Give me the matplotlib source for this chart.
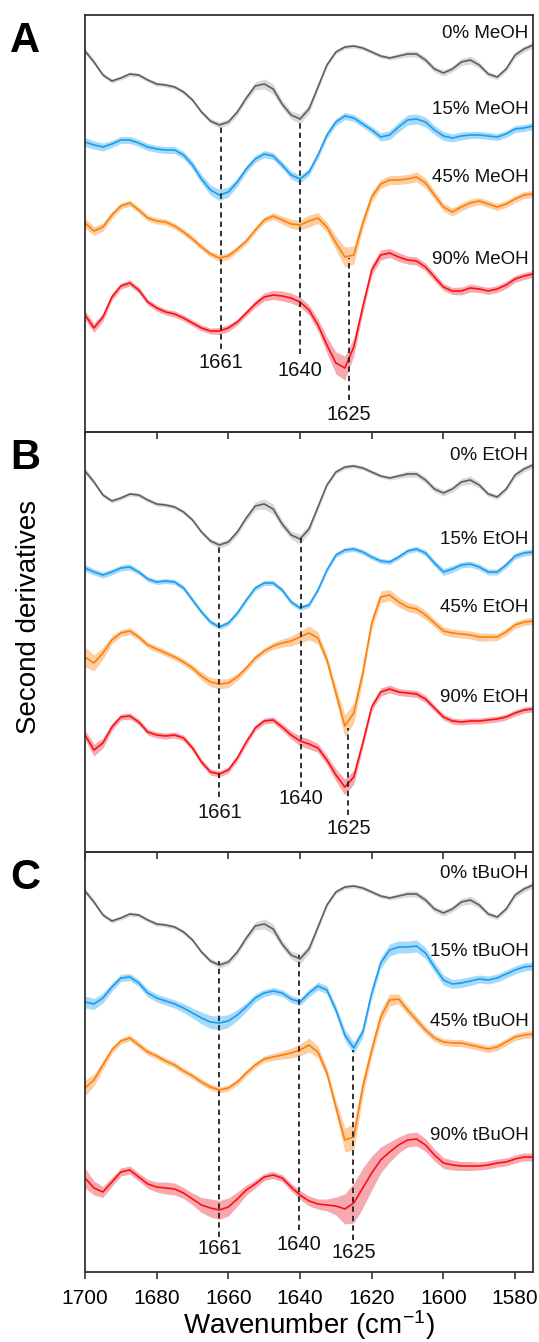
import numpy as np
import matplotlib
matplotlib.use("Agg")
import matplotlib.pyplot as plt

plt.rcParams['font.family'] = ['Liberation Sans', 'DejaVu Sans']
plt.rcParams['mathtext.fontset'] = 'custom'
plt.rcParams['mathtext.rm'] = 'Liberation Sans'
plt.rcParams['mathtext.default'] = 'regular'

# wavenumber grid (cm-1), 1700 -> 1575 every 2.5
wavenumber = np.arange(1700, 1574, -2.5)

# 0% co-solvent control (same in all three panels)
ctrl = [38.1, 37.0, 35.7, 35.1, 35.4, 35.8, 35.7, 35.2, 34.8, 34.7, 34.5, 34.0, 33.2, 32.0, 31.1, 30.7, 31.0,
        32.0, 33.4, 34.6, 34.8, 34.3, 32.8, 31.7, 31.3, 32.3, 34.5, 36.7, 38.0, 38.5, 38.6, 38.4, 38.0, 37.6,
        37.4, 37.6, 37.8, 37.8, 37.2, 36.3, 35.9, 36.3, 37.0, 37.2, 36.7, 35.8, 35.5, 36.3, 37.7, 38.3, 38.7]
ctrl_sd = [0.3, 0.25, 0.2, 0.2, 0.2, 0.2, 0.2, 0.2, 0.2, 0.2, 0.2, 0.2, 0.2, 0.2, 0.25, 0.3, 0.3, 0.3, 0.3,
           0.4, 0.5, 0.5, 0.4, 0.4, 0.5, 0.4, 0.3, 0.2, 0.2, 0.2, 0.2, 0.2, 0.2, 0.2, 0.2, 0.25, 0.3, 0.3,
           0.3, 0.3, 0.3, 0.3, 0.35, 0.4, 0.3, 0.25, 0.25, 0.25, 0.3, 0.3, 0.3]

# A: methanol
meoh15 = [29.0, 28.7, 28.5, 28.8, 29.2, 29.2, 28.9, 28.5, 28.3, 28.2, 28.2, 27.7, 26.7, 25.3, 24.2, 23.7, 24.0,
          25.0, 26.3, 27.3, 27.8, 27.6, 26.7, 25.7, 25.3, 26.0, 27.7, 29.7, 31.0, 31.6, 31.4, 30.8, 30.2, 29.5,
          29.7, 30.5, 31.2, 31.3, 31.0, 30.2, 29.6, 29.4, 29.6, 29.7, 29.7, 29.6, 29.5, 29.8, 30.3, 30.4, 30.6]
meoh15_sd = [0.45, 0.4, 0.4, 0.35, 0.35, 0.35, 0.35, 0.35, 0.35, 0.35, 0.35, 0.35, 0.4, 0.45, 0.5, 0.55, 0.5,
             0.4, 0.35, 0.35, 0.35, 0.35, 0.35, 0.4, 0.4, 0.35, 0.35, 0.35, 0.35, 0.35, 0.35, 0.35, 0.35, 0.4,
             0.45, 0.5, 0.5, 0.5, 0.5, 0.45, 0.45, 0.4, 0.4, 0.35, 0.35, 0.35, 0.35, 0.35, 0.35, 0.35, 0.35]
meoh45 = [20.9, 20.1, 20.5, 21.7, 22.6, 22.9, 22.2, 21.4, 21.1, 21.0, 20.6, 20.0, 19.3, 18.5, 17.8, 17.4, 17.6,
          18.3, 19.1, 20.2, 21.2, 21.6, 21.2, 20.8, 20.7, 21.1, 21.4, 20.5, 18.9, 17.5, 17.7, 20.9, 23.5, 24.8,
          25.2, 25.2, 25.3, 25.5, 24.9, 23.7, 22.5, 22.0, 22.5, 22.9, 23.1, 22.8, 22.5, 22.8, 23.3, 23.7, 23.8]
meoh45_sd = [0.5, 0.45, 0.4, 0.35, 0.3, 0.3, 0.3, 0.3, 0.3, 0.3, 0.3, 0.3, 0.3, 0.3, 0.3, 0.35, 0.35, 0.3,
             0.3, 0.3, 0.3, 0.35, 0.4, 0.45, 0.5, 0.6, 0.55, 0.5, 0.7, 1.0, 0.9, 0.6, 0.5, 0.45, 0.45, 0.45,
             0.45, 0.5, 0.5, 0.45, 0.4, 0.4, 0.4, 0.4, 0.35, 0.35, 0.35, 0.35, 0.35, 0.35, 0.35]
meoh90 = [11.7, 10.4, 11.5, 13.5, 14.6, 14.9, 14.2, 13.0, 12.4, 12.0, 11.8, 11.4, 10.9, 10.4, 10.1, 10.1, 10.4,
          11.0, 11.9, 12.8, 13.5, 13.7, 13.6, 13.4, 13.0, 12.2, 10.7, 8.7, 6.9, 6.4, 8.5, 12.5, 16.2, 17.7,
          17.9, 17.5, 17.2, 17.1, 16.5, 15.5, 14.5, 14.1, 14.1, 14.4, 14.3, 14.1, 14.3, 14.7, 15.3, 15.6, 15.8]
meoh90_sd = [0.45, 0.45, 0.4, 0.35, 0.3, 0.3, 0.3, 0.3, 0.3, 0.3, 0.3, 0.3, 0.3, 0.3, 0.3, 0.35, 0.35, 0.3,
             0.3, 0.35, 0.4, 0.45, 0.5, 0.5, 0.5, 0.5, 0.6, 0.8, 1.1, 1.2, 0.9, 0.6, 0.55, 0.5, 0.45, 0.45,
             0.4, 0.4, 0.4, 0.4, 0.35, 0.35, 0.4, 0.4, 0.35, 0.35, 0.35, 0.35, 0.35, 0.35, 0.35]

# B: ethanol
etoh15 = [28.4, 28.0, 27.7, 28.0, 28.4, 28.5, 28.0, 27.3, 27.0, 27.1, 27.0, 26.4, 25.2, 24.0, 23.0, 22.5, 22.9,
          23.9, 25.2, 26.4, 26.9, 26.9, 26.2, 25.0, 24.4, 24.7, 26.2, 28.2, 29.7, 30.2, 30.3, 30.0, 29.5, 29.1,
          29.0, 29.5, 30.1, 30.3, 29.9, 28.9, 28.0, 28.3, 28.7, 28.8, 28.5, 28.0, 28.0, 28.7, 29.6, 29.9, 30.0]
etoh15_sd = [0.35, 0.3, 0.3, 0.3, 0.3, 0.3, 0.25, 0.25, 0.25, 0.25, 0.25, 0.25, 0.25, 0.25, 0.25, 0.25, 0.25,
             0.25, 0.25, 0.25, 0.25, 0.25, 0.25, 0.25, 0.25, 0.25, 0.25, 0.25, 0.25, 0.25, 0.25, 0.25, 0.25,
             0.25, 0.25, 0.25, 0.25, 0.25, 0.3, 0.3, 0.35, 0.35, 0.3, 0.3, 0.3, 0.3, 0.3, 0.3, 0.3, 0.3, 0.3]
etoh45 = [19.5, 18.9, 19.9, 21.2, 21.9, 22.1, 21.5, 20.7, 20.3, 19.9, 19.5, 19.0, 18.4, 17.6, 17.0, 16.8, 16.9,
          17.5, 18.4, 19.4, 20.1, 20.6, 20.9, 21.1, 21.5, 21.9, 21.4, 19.2, 15.9, 12.6, 13.9, 17.9, 22.9, 25.5,
          25.7, 25.0, 24.5, 24.3, 23.7, 22.9, 22.1, 21.9, 21.8, 21.7, 21.5, 21.5, 21.5, 22.0, 22.7, 23.0, 23.1]
etoh45_sd = [1.0, 0.8, 0.6, 0.4, 0.35, 0.35, 0.3, 0.3, 0.3, 0.3, 0.3, 0.3, 0.35, 0.4, 0.45, 0.5, 0.45, 0.35,
             0.3, 0.3, 0.3, 0.35, 0.4, 0.5, 0.6, 0.7, 0.6, 0.5, 0.7, 1.1, 1.0, 0.7, 0.6, 0.6, 0.55, 0.5, 0.45,
             0.45, 0.45, 0.4, 0.4, 0.4, 0.4, 0.4, 0.4, 0.4, 0.35, 0.35, 0.35, 0.35, 0.35]
etoh90 = [11.7, 10.2, 10.9, 12.5, 13.5, 13.6, 13.0, 12.0, 11.7, 11.6, 11.7, 11.4, 10.4, 9.0, 8.0, 7.8, 8.2,
          9.4, 11.0, 12.4, 13.1, 13.2, 12.5, 11.7, 11.1, 10.8, 10.4, 9.2, 7.7, 6.5, 7.5, 10.9, 14.5, 16.0,
          16.3, 16.0, 15.9, 15.8, 15.3, 14.4, 13.5, 13.1, 13.0, 13.1, 13.1, 13.2, 13.3, 13.5, 13.9, 14.2, 14.3]
etoh90_sd = [0.5, 0.6, 0.5, 0.35, 0.3, 0.3, 0.3, 0.3, 0.3, 0.3, 0.3, 0.3, 0.3, 0.3, 0.3, 0.3, 0.3, 0.3, 0.3,
             0.3, 0.3, 0.3, 0.35, 0.4, 0.5, 0.5, 0.45, 0.45, 0.6, 0.8, 0.7, 0.5, 0.4, 0.4, 0.4, 0.35, 0.35,
             0.35, 0.35, 0.3, 0.3, 0.3, 0.3, 0.3, 0.3, 0.3, 0.3, 0.3, 0.3, 0.3, 0.3]

# C: tert-butanol
tbuoh15 = [27.0, 26.8, 27.4, 28.5, 29.4, 29.5, 28.9, 27.9, 27.4, 27.1, 26.8, 26.4, 25.9, 25.4, 25.0, 24.9, 25.1,
           25.7, 26.5, 27.4, 27.9, 28.1, 27.9, 27.3, 27.0, 27.9, 28.6, 28.2, 26.2, 23.7, 22.4, 24.0, 27.9, 30.9,
           32.2, 32.5, 32.5, 32.6, 31.9, 30.5, 29.2, 28.8, 28.9, 29.1, 29.3, 29.2, 29.4, 29.8, 30.2, 30.5, 30.6]
tbuoh15_sd = [0.6, 0.55, 0.5, 0.4, 0.35, 0.35, 0.35, 0.4, 0.4, 0.4, 0.4, 0.45, 0.5, 0.6, 0.65, 0.7, 0.65,
              0.55, 0.45, 0.4, 0.35, 0.35, 0.35, 0.35, 0.35, 0.4, 0.4, 0.4, 0.45, 0.55, 0.6, 0.5, 0.5, 0.55,
              0.6, 0.6, 0.6, 0.6, 0.55, 0.5, 0.5, 0.45, 0.45, 0.45, 0.4, 0.4, 0.4, 0.4, 0.4, 0.4, 0.4]
tbuoh45 = [18.4, 19.2, 20.7, 22.2, 23.1, 23.4, 22.7, 22.0, 21.6, 21.1, 20.7, 20.1, 19.6, 19.0, 18.5, 18.2, 18.4,
           19.0, 19.9, 20.7, 21.3, 21.5, 21.7, 21.9, 22.2, 22.7, 22.0, 19.9, 16.5, 13.2, 13.5, 18.5, 22.2, 25.5,
           27.2, 27.3, 26.2, 25.2, 24.2, 23.4, 23.0, 22.9, 22.9, 22.7, 22.5, 22.3, 22.5, 23.0, 23.5, 23.7, 23.8]
tbuoh45_sd = [0.8, 0.6, 0.45, 0.35, 0.3, 0.3, 0.3, 0.3, 0.3, 0.3, 0.3, 0.3, 0.3, 0.3, 0.3, 0.3, 0.3, 0.3, 0.3,
              0.3, 0.3, 0.35, 0.4, 0.5, 0.6, 0.7, 0.6, 0.5, 0.7, 1.2, 1.3, 0.9, 0.7, 0.7, 0.6, 0.5, 0.45, 0.4,
              0.4, 0.35, 0.35, 0.35, 0.35, 0.35, 0.35, 0.35, 0.35, 0.35, 0.35, 0.35, 0.35]
tbuoh90 = [9.4, 8.4, 8.0, 9.0, 10.0, 10.2, 9.5, 8.8, 8.5, 8.4, 8.3, 7.9, 7.3, 6.7, 6.4, 6.2, 6.5,
           7.3, 8.2, 8.8, 9.5, 9.7, 9.4, 8.5, 7.7, 7.1, 6.8, 6.7, 6.6, 6.3, 6.9, 8.4, 9.9, 11.2,
           12.0, 12.7, 13.2, 13.3, 12.7, 11.7, 10.9, 10.7, 10.6, 10.6, 10.6, 10.7, 10.9, 11.0, 11.3, 11.5, 11.5]
tbuoh90_sd = [1.0, 0.7, 0.55, 0.45, 0.4, 0.4, 0.4, 0.45, 0.5, 0.6, 0.6, 0.55, 0.6, 0.75, 0.9, 0.95, 0.9, 0.7,
              0.5, 0.4, 0.35, 0.35, 0.35, 0.4, 0.45, 0.5, 0.5, 0.6, 0.9, 1.5, 2.0, 2.0, 1.7, 1.3, 1.0, 0.8,
              0.7, 0.7, 0.65, 0.6, 0.55, 0.5, 0.45, 0.45, 0.4, 0.4, 0.4, 0.4, 0.4, 0.4, 0.4]

panel_letters = ['A', 'B', 'C']
solvents = ['MeOH', 'EtOH', 'tBuOH']
fractions = ['0%', '15%', '45%', '90%']
series = [[ctrl, meoh15, meoh45, meoh90], [ctrl, etoh15, etoh45, etoh90], [ctrl, tbuoh15, tbuoh45, tbuoh90]]
spreads = [[ctrl_sd, meoh15_sd, meoh45_sd, meoh90_sd], [ctrl_sd, etoh15_sd, etoh45_sd, etoh90_sd],
           [ctrl_sd, tbuoh15_sd, tbuoh45_sd, tbuoh90_sd]]
label_y = [[39.8, 32.3, 25.5, 17.2], [39.6, 31.3, 24.5, 15.5], [39.9, 32.0, 25.0, 13.7]]

# marker bands: position, label, line top/bottom and label height for each panel
band_labels = ['1661', '1640', '1625']
band_x = [[1662.0, 1640.0, 1626.4], [1662.5, 1639.8, 1626.5], [1662.5, 1640.3, 1625.1]]
band_top = [[30.7, 31.3, 17.4], [30.7, 31.4, 12.4], [31.1, 31.7, 22.2]]
band_bot = [[8.3, 7.8, 3.2], [5.5, 6.5, 3.7], [3.5, 4.2, 3.2]]
band_text_y = [[6.9, 6.2, 1.7], [3.9, 5.3, 2.4], [2.4, 2.8, 1.9]]

line_colors = ['#5f5f5f', '#1c9cf2', '#ff7f0a', '#ff1010']
fill_colors = ['#d9d9d9', '#a6daf8', '#fbcfa3', '#f7a9b0']

fig = plt.figure(figsize=(5.39, 13.42), dpi=100)
W, H = 539.0, 1342.0
left, right = 85, 533
tops = [14.5, 432, 852]
bots = [432, 852, 1272]

for i in range(3):
    ax = fig.add_axes([left / W, 1 - bots[i] / H, (right - left) / W, (bots[i] - tops[i]) / H])
    ax.set_facecolor('none')
    for j in range(4):
        y = np.array(series[i][j])
        s = np.array(spreads[i][j])
        ax.fill_between(wavenumber, y - s, y + s, color=fill_colors[j], lw=0, zorder=1)
        ax.plot(wavenumber, y, color=line_colors[j], lw=1.2, zorder=2)
        ax.text(1576.3, label_y[i][j], fractions[j] + ' ' + solvents[i], ha='right', va='center',
                fontsize=13.5, color='#111111', zorder=4)
    for k in range(3):
        ax.vlines(band_x[i][k], band_bot[i][k], band_top[i][k], colors='#222222', lw=1.3,
                  linestyles=(0, (3, 2.2)), zorder=3)
        ax.text(band_x[i][k], band_text_y[i][k], band_labels[k], ha='center', va='center',
                fontsize=14.5, color='#111111')
    ax.set_xlim(1700, 1575)
    ax.set_ylim(0, (bots[i] - tops[i]) / 10.0)
    ax.set_yticks([])
    ax.set_xticks([1700, 1680, 1660, 1640, 1620, 1600, 1580])
    ax.tick_params(axis='x', direction='out', length=5, width=1.2, color='#333333',
                   labelsize=15, pad=7)
    if i < 2:
        ax.tick_params(axis='x', labelbottom=False)
    for sp in ax.spines.values():
        sp.set_linewidth(1.3)
        sp.set_color('#333333')
    fig.text(25 / W, 1 - (tops[i] + 6) / H, panel_letters[i], fontsize=30, fontweight='bold',
             ha='center', va='top')

fig.text(29 / W, 1 - 617 / H, 'Second derivatives', rotation=90, ha='center', va='center', fontsize=20)
fig.text(309 / W, 1 - 1325 / H, 'Wavenumber (cm$^{-1}$)', ha='center', va='center', fontsize=20)

fig.savefig('out.png', dpi=100)
